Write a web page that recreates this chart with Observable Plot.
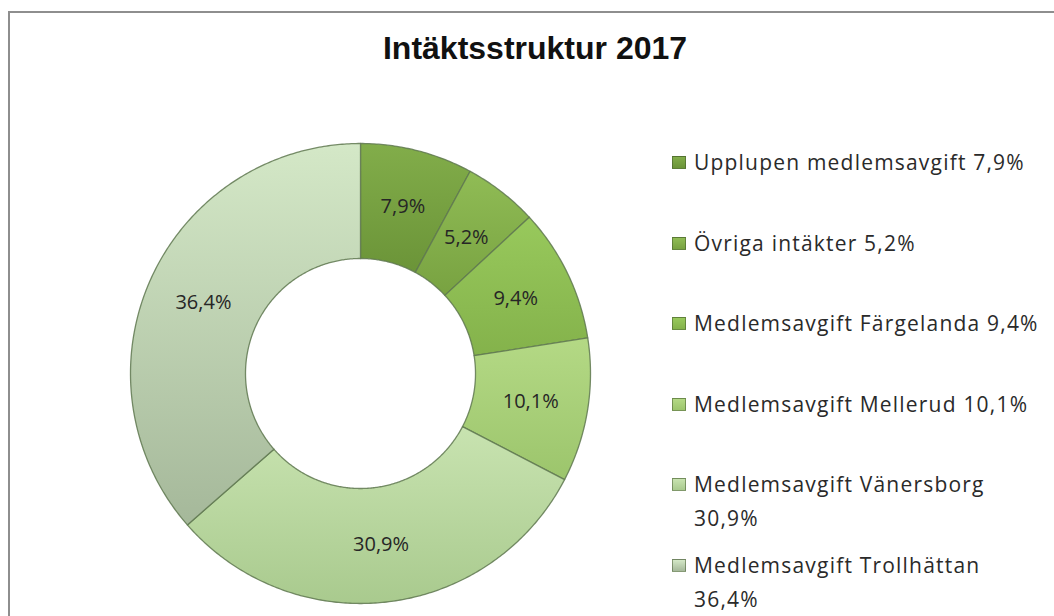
<!DOCTYPE html>
<html>
<head>
<meta charset="utf-8">
<script src="https://cdn.jsdelivr.net/npm/d3@7"></script>
<script src="https://cdn.jsdelivr.net/npm/@observablehq/plot@0.6"></script>
<style>
  html, body { margin: 0; padding: 0; background: #fff; width: 1054px; height: 616px; overflow: hidden; position: relative; }
  #frame { position: absolute; left: 8px; top: 11px; width: 1100px; height: 700px; border: 2px solid #8e8e8e; box-sizing: border-box; }
  #chart { position: absolute; left: 0; top: 0; }
  #title { position: absolute; left: 285px; width: 500px; top: 30px; text-align: center; font-family: "Liberation Sans", Arial, sans-serif; font-weight: bold; font-size: 32px; color: #111; }
  .item { position: absolute; left: 672px; display: flex; align-items: flex-start; font-family: "Open Sans", sans-serif; font-size: 21px; letter-spacing: 1.2px; color: #2a2a2a; }
  .sw { width: 14px; height: 13px; margin-top: 11px; margin-right: 8px; flex: none; box-sizing: border-box; border: 1px solid rgba(60,80,40,0.5); }
  .txt { width: 347px; line-height: 34px; }
</style>
</head>
<body>
<div id="frame"></div>
<div id="chart"></div>
<div id="title">Intäktsstruktur 2017</div>
<div id="legend"></div>
<script>
const categories = ["Upplupen medlemsavgift", "Övriga intäkter", "Medlemsavgift Färgelanda", "Medlemsavgift Mellerud", "Medlemsavgift Vänersborg", "Medlemsavgift Trollhättan"];
const values = [7.9, 5.2, 9.4, 10.1, 30.9, 36.4];
const colorsLight = ["#82ad4a", "#90bc55", "#98c95c", "#b4d985", "#c8e3b0", "#d4e8c7"];
const colorsDark  = ["#6b9438", "#78a241", "#84b24b", "#9cc56c", "#a9ca8e", "#a5b89a"];
const title = "Intäktsstruktur 2017";

const fmt = v => v.toFixed(1).replace(".", ",") + "%";
const rows = categories.map((c, i) => ({cat: c, v: values[i], i}));

const R = 230, r0 = 115;
const arcs = d3.pie().sort(null).value(d => d.v)(rows);
const pts = [];
const labelPts = [];
for (const a of arcs) {
  const n = Math.max(8, Math.ceil((a.endAngle - a.startAngle) / 0.01));
  for (let k = 0; k <= n; k++) {
    const t = a.startAngle + (a.endAngle - a.startAngle) * k / n;
    pts.push({cat: a.data.cat, x: R * Math.sin(t), y: R * Math.cos(t)});
  }
  for (let k = n; k >= 0; k--) {
    const t = a.startAngle + (a.endAngle - a.startAngle) * k / n;
    pts.push({cat: a.data.cat, x: r0 * Math.sin(t), y: r0 * Math.cos(t)});
  }
  const m = (a.startAngle + a.endAngle) / 2, rm = (R + r0) / 2;
  labelPts.push({x: rm * Math.sin(m), y: rm * Math.cos(m), label: fmt(a.data.v)});
}

const gradIds = categories.map((_, i) => "grad" + i);

const plot = Plot.plot({
  width: 1054,
  height: 616,
  margin: 0,
  x: {domain: [-360, 694], axis: null},
  y: {domain: [-243, 373], axis: null},
  color: {domain: categories, range: gradIds.map(id => `url(#${id})`)},
  style: {background: "transparent", overflow: "visible"},
  marks: [
    Plot.line(pts, {x: "x", y: "y", z: "cat", fill: "cat", stroke: "#5f7850", strokeWidth: 1.3, strokeOpacity: 0.85, curve: "linear-closed"}),
    Plot.text(labelPts, {x: "x", y: "y", text: "label", fontSize: 20, fill: "#262626", fontFamily: "Open Sans, sans-serif", letterSpacing: "0.5px"})
  ]
});

// gradients
const svg = d3.select(plot);
const defs = svg.insert("defs", ":first-child");
categories.forEach((c, i) => {
  const g = defs.append("linearGradient").attr("id", gradIds[i]).attr("x1", 0).attr("y1", 0).attr("x2", 0).attr("y2", 1);
  g.append("stop").attr("offset", "0%").attr("stop-color", colorsLight[i]);
  g.append("stop").attr("offset", "100%").attr("stop-color", colorsDark[i]);
});
document.getElementById("chart").appendChild(plot);

// legend
const legend = document.getElementById("legend");
categories.forEach((c, i) => {
  const item = document.createElement("div");
  item.className = "item";
  item.style.top = (145 + i * 80.6) + "px";
  const sw = document.createElement("div");
  sw.className = "sw";
  sw.style.background = `linear-gradient(${colorsLight[i]}, ${colorsDark[i]})`;
  const t = document.createElement("div");
  t.className = "txt";
  t.textContent = c + " " + fmt(values[i]);
  item.appendChild(sw);
  item.appendChild(t);
  legend.appendChild(item);
});
</script>
</body>
</html>
